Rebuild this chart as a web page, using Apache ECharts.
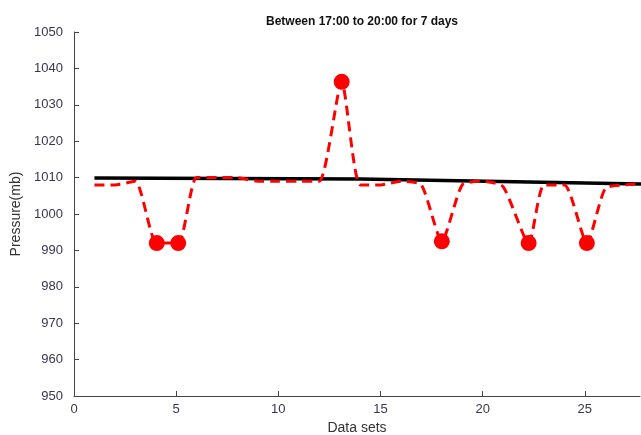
<!DOCTYPE html>
<html>
<head>
<meta charset="utf-8">
<script src="https://cdn.jsdelivr.net/npm/echarts@6/dist/echarts.min.js"></script>
<style>html,body{margin:0;padding:0;background:#fff}#c{width:641px;height:435px}</style>
</head>
<body>
<div id="c"></div>
<script>
// Data
const pressureX = [1, 2, 3, 4.05, 5.1, 6, 7, 8, 9, 10, 11, 12, 13.1, 14, 15, 16, 17, 18, 19, 20, 21, 22.25, 23, 24, 25.1, 26, 27, 28];
const pressureY = [1008, 1008, 1009, 992, 992, 1010, 1010, 1010, 1009, 1009, 1009, 1009, 1036.3, 1008, 1008, 1009, 1008, 992.5, 1008, 1009, 1007.5, 992, 1008, 1008, 992, 1007, 1008, 1008.5];
const markerX = [4.05, 5.1, 13.1, 18, 22.25, 25.1];
const markerY = [992, 992, 1036.3, 992.5, 992, 992];
const trendX = [1, 14, 28];
const trendY = [1009.9, 1009.6, 1008.2];
const xTicks = [0, 5, 10, 15, 20, 25];
const yTicks = [950, 960, 970, 980, 990, 1000, 1010, 1020, 1030, 1040, 1050];

const zip = (a, b) => a.map((v, i) => [v, b[i]]);
const font = 'Liberation Sans, Arial, sans-serif';
const chart = echarts.init(document.getElementById('c'));
chart.setOption({
  animation: false,
  backgroundColor: '#fff',
  title: {
    text: 'Between 17:00 to 20:00 for 7 days',
    left: 357, top: 11, textAlign: 'center',
    textStyle: { fontFamily: font, fontSize: 12, fontWeight: 'bold', color: '#111' }
  },
  grid: { left: 74, top: 32, bottom: 39, right: 1, containLabel: false, outerBoundsMode: 'none' },
  xAxis: {
    type: 'value', min: 0, max: 27.7, interval: 5,
    name: 'Data sets', nameLocation: 'middle', nameGap: 25,
    nameTextStyle: { fontFamily: font, fontSize: 14, color: '#333' },
    axisLine: { lineStyle: { color: '#444', width: 1 } },
    axisTick: { inside: true, length: 5, lineStyle: { color: '#444' } },
    axisLabel: { fontFamily: font, fontSize: 13, color: '#3a3550', margin: 7, showMaxLabel: false,
      formatter: v => xTicks.includes(v) ? String(v) : '' },
    splitLine: { show: false }
  },
  yAxis: {
    type: 'value', min: 950, max: 1050, interval: 10,
    name: 'Pressure(mb)', nameLocation: 'middle', nameGap: 42, nameRotate: 90,
    nameTextStyle: { fontFamily: font, fontSize: 14, color: '#333' },
    axisLine: { show: true, lineStyle: { color: '#444', width: 1 } },
    axisTick: { show: true, inside: true, length: 5, lineStyle: { color: '#444' } },
    axisLabel: { fontFamily: font, fontSize: 13, color: '#3a3550', margin: 11,
      formatter: v => yTicks.includes(v) ? String(v) : '' },
    splitLine: { show: false }
  },
  series: [
    {
      type: 'line', data: zip(trendX, trendY), symbol: 'none',
      lineStyle: { color: '#000', width: 3.5 }, z: 2
    },
    {
      type: 'line', data: zip(pressureX, pressureY), symbol: 'none', smooth: 0.2,
      lineStyle: { color: '#ff0000', width: 3, type: [10, 6] }, z: 3
    },
    {
      type: 'scatter', data: zip(markerX, markerY), symbol: 'circle', symbolSize: 16,
      itemStyle: { color: '#ff0000', opacity: 1 }, z: 4
    }
  ]
});
</script>
</body>
</html>
